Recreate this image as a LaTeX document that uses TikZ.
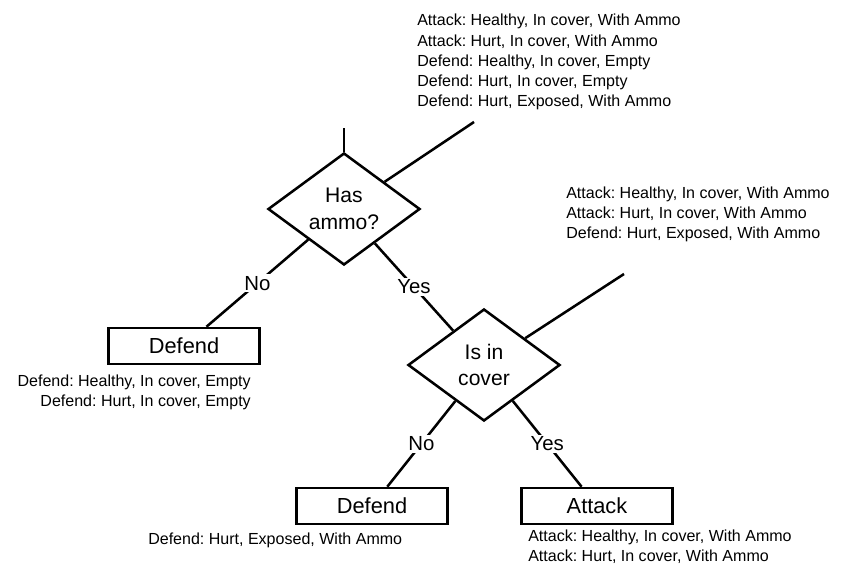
\documentclass[tikz,border=0pt]{standalone}
\usepackage{fontspec}
\setmainfont{Liberation Sans}
\usetikzlibrary{shapes.geometric}
\frenchspacing

\begin{document}
\begin{tikzpicture}[x=0.025cm,y=-0.025cm,line width=1.8pt,
question/.style={diamond,draw=black,aspect=1.36,minimum width=3.8cm,minimum height=2.8cm,inner sep=0pt,align=center,font=\fontsize{15}{19}\selectfont},
action/.style={rectangle,draw=black,minimum width=3.78cm,minimum height=0.9cm,font=\fontsize{15.5}{18}\selectfont},
answer/.style={rectangle,fill=white,inner sep=1.5pt,font=\fontsize{14.5}{16}\selectfont},
cases/.style={rectangle,inner sep=0pt,font=\fontsize{11.4}{14.3}\selectfont}]

\useasboundingbox (0,0) rectangle (842,565);

% Decisions
\node[question] (hasAmmo) at (344,209) {Has\\ammo?};
\node[question] (inCover) at (484,365) {Is in\\cover};

% Actions
\node[action] (defendEmpty) at (184,346) {Defend};
\node[action] (defendExposed) at (372,506) {Defend};
\node[action] (attack) at (597,506) {Attack};

% Loose ends
\coordinate (rootIn) at (344,128);
\coordinate (rootOut) at (474,122);
\coordinate (coverOut) at (624,274);

% Cases reaching each node
\node[cases,anchor=west,align=left] (casesRoot) at (416,62)
  {Attack: Healthy, In cover, With Ammo\\Attack: Hurt, In cover, With Ammo\\Defend: Healthy, In cover, Empty\\Defend: Hurt, In cover, Empty\\Defend: Hurt, Exposed, With Ammo};
\node[cases,anchor=west,align=left] (casesCover) at (565,214)
  {Attack: Healthy, In cover, With Ammo\\Attack: Hurt, In cover, With Ammo\\Defend: Hurt, Exposed, With Ammo};
\node[cases,anchor=east,align=right] (casesEmpty) at (252,392)
  {Defend: Healthy, In cover, Empty\\Defend: Hurt, In cover, Empty};
\node[cases,anchor=west] (casesExposed) at (147,540) {Defend: Hurt, Exposed, With Ammo};
\node[cases,anchor=west,align=left] (casesAttack) at (527,547)
  {Attack: Healthy, In cover, With Ammo\\Attack: Hurt, In cover, With Ammo};

% Connectors
\draw (rootIn) -- (hasAmmo);
\draw (hasAmmo) -- (rootOut);
\draw (inCover) -- (coverOut);
\draw (hasAmmo) -- node[answer] {No} (defendEmpty);
\draw (hasAmmo) -- node[answer] {Yes} (inCover);
\draw (inCover) -- node[answer] {No} (defendExposed);
\draw (inCover) -- node[answer] {Yes} (attack);

\end{tikzpicture}
\end{document}
